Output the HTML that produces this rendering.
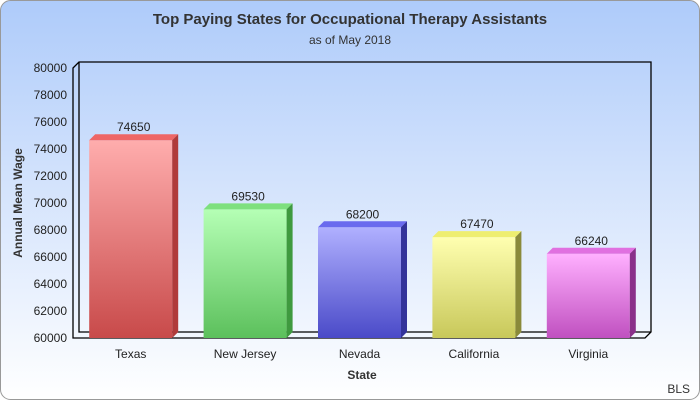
<!DOCTYPE html>
<html><head><meta charset="utf-8"><style>
body{margin:0;width:700px;height:400px;overflow:hidden;font-family:"Liberation Sans","DejaVu Sans",sans-serif}
</style></head><body>
<svg width="700" height="400" xmlns="http://www.w3.org/2000/svg" id="svg">
<defs>
<linearGradient id="bg" x1="0" y1="0" x2="0" y2="1"><stop offset="0" stop-color="#aecbfa"/><stop offset="1" stop-color="#ffffff"/></linearGradient>
</defs>
<rect x="0.5" y="0.5" width="699" height="399" rx="10" fill="url(#bg)" stroke="#999"/>
<text x="350" y="24" text-anchor="middle" font-size="15" font-weight="bold" fill="#333">Top Paying States for Occupational Therapy Assistants</text>
<text x="350" y="44" text-anchor="middle" font-size="12" fill="#333">as of May 2018</text>
<g id="plot"></g>
<text x="22" y="203" text-anchor="middle" font-size="12" font-weight="bold" fill="#333" transform="rotate(-90 22 203)">Annual Mean Wage</text>
<text x="362" y="379" text-anchor="middle" font-size="12" font-weight="bold" fill="#333">State</text>
<text x="690" y="393" text-anchor="end" font-size="12" fill="#333">BLS</text>
</svg>
<script>
const categories=["Texas","New Jersey","Nevada","California","Virginia"];
const values=[74650,69530,68200,67470,66240];
const ticks=[60000,62000,64000,66000,68000,70000,72000,74000,76000,78000,80000];
const colors=[["#ffadad","#c84a4a","#ee6666","#b03a3a"],["#b5ffb5","#5cc05c","#7ee07e","#3f9a3f"],["#b0b0ff","#4a4ac8","#6a6aee","#33339a"],["#ffffb0","#c8c85a","#eeee70","#8a8a3a"],["#ffb0ff","#c050c0","#e070e0","#8a308a"]];
const NS="http://www.w3.org/2000/svg",g=document.getElementById('plot');
const L=73,R=645,T=68,B=338,D=6,min=60000,max=80000;
const y=v=>B-(v-min)/(max-min)*(B-T);
const slot=(R-L)/categories.length, bw=83;
const xc=i=>L+slot*(i+0.5)+0.5;
function mk(t,a){const e=document.createElementNS(NS,t);for(const k in a)e.setAttribute(k,a[k]);g.appendChild(e);return e;}
let f=mk('path',{d:`M${L},${T} L${L+D},${T-D} L${R+D},${T-D} L${R+D},${B-D} L${R},${B} L${L},${B} Z M${L+D},${T-D} L${L+D},${B-D} L${R+D},${B-D}`,fill:'none',stroke:'#000','stroke-width':1.3});


ticks.forEach(t=>{const e=mk('text',{x:L-6,y:y(t)+4,'text-anchor':'end','font-size':12,fill:'#222'});e.textContent=t;

});
const defs=document.querySelector('defs');
values.forEach((v,i)=>{
 const c=colors[i],x0=xc(i)-bw/2,x1=x0+bw,yt=y(v);
 const gr=document.createElementNS(NS,'linearGradient');gr.id='g'+i;gr.setAttribute('x1',0);gr.setAttribute('y1',0);gr.setAttribute('x2',0);gr.setAttribute('y2',1);
 gr.innerHTML=`<stop offset="0" stop-color="${c[0]}"/><stop offset="1" stop-color="${c[1]}"/>`;defs.appendChild(gr);
 const fr=mk('rect',{x:x0,y:yt,width:bw,height:B-yt,fill:`url(#g${i})`});
 
 
 const tp=mk('polygon',{points:`${x0},${yt} ${x0+D},${yt-D} ${x1+D},${yt-D} ${x1},${yt}`,fill:c[2]});
 
 
 const sd=mk('polygon',{points:`${x1},${yt} ${x1+D},${yt-D} ${x1+D},${B-D} ${x1},${B}`,fill:c[3]});
 
 
 const lb=mk('text',{x:xc(i)+3,y:yt-9,'text-anchor':'middle','font-size':12,fill:'#222'});lb.textContent=v;
 
 
 const cl=mk('text',{x:xc(i),y:B+20,'text-anchor':'middle','font-size':12,fill:'#222'});cl.textContent=categories[i];
 
 
});
</script>
</body></html>
